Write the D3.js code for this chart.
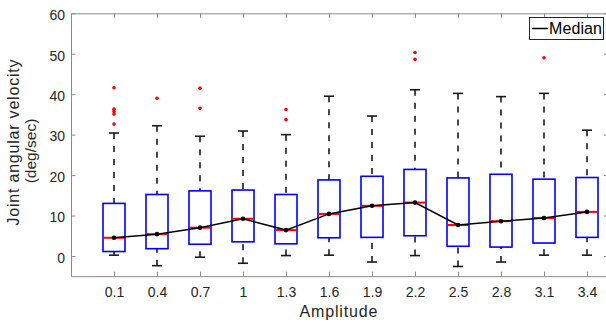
<!DOCTYPE html>
<html><head><meta charset="utf-8">
<script src="https://cdn.jsdelivr.net/npm/d3@7"></script>
<style>
html,body{margin:0;padding:0;background:#fff;}
svg{display:block;font-family:"Liberation Sans",Arial,Helvetica,sans-serif;}
</style></head>
<body>
<svg id="chart" width="606" height="324"></svg>
<script>
const categories = ["0.1","0.4","0.7","1","1.3","1.6","1.9","2.2","2.5","2.8","3.1","3.4"];
const whiskerLow  = [0.2, -2.4, -0.3, -1.8, 0.1, 0.2, -1.5, 0.1, -2.6, -1.5, 0.2, 0.2];
const q1          = [1.1, 1.8, 2.9, 3.5, 3.0, 4.5, 4.6, 5.0, 2.4, 2.2, 3.2, 4.6];
const medians     = [4.5, 5.4, 7.0, 9.2, 6.4, 10.4, 12.4, 13.2, 7.65, 8.6, 9.4, 10.9];
const q3          = [13.0, 15.2, 16.1, 16.3, 15.2, 18.8, 19.7, 21.4, 19.3, 20.2, 19.0, 19.4];
const whiskerHigh = [30.4, 32.2, 29.6, 30.9, 30.0, 39.5, 34.6, 41.1, 40.2, 39.4, 40.2, 31.1];
const outliers = [
  [41.6, 36.3, 35.7, 35.1, 32.6],
  [39.0],
  [41.5, 36.5],
  [],
  [36.2, 33.7],
  [],
  [],
  [50.3, 48.6],
  [],
  [],
  [49.0],
  []
];
const yTicks = [0, 10, 20, 30, 40, 50, 60];

const svg = d3.select("#chart");
const x = d3.scaleLinear().domain([0, 12.5]).range([71, 608.5]);
const y = d3.scaleLinear().domain([-5, 60]).range([276.2, 13.3]);
const axisColor = "#8a8a8a", textColor = "#262626";

const data = categories.map((c, i) => ({
  pos: i + 1, lo: whiskerLow[i], q1: q1[i], med: medians[i], q3: q3[i], hi: whiskerHigh[i], out: outliers[i]
}));

// axes
const gL = svg.append("g").attr("transform", `translate(${x(0)},0)`)
  .call(d3.axisLeft(y).tickValues(yTicks).tickSize(-4.5).tickSizeOuter(0).tickPadding(6));
const gR = svg.append("g").attr("transform", `translate(${x(12.5)},0)`)
  .call(d3.axisRight(y).tickValues(yTicks).tickSize(-4.5).tickSizeOuter(0).tickFormat(""));
const gB = svg.append("g").attr("transform", `translate(0,${y(-5)})`)
  .call(d3.axisBottom(x).tickValues(data.map(d => d.pos)).tickSize(-4.5).tickSizeOuter(0)
    .tickPadding(10.5).tickFormat(p => categories[p - 1]));
const gT = svg.append("g").attr("transform", `translate(0,${y(60)})`)
  .call(d3.axisTop(x).tickValues(data.map(d => d.pos)).tickSize(-4.5).tickSizeOuter(0).tickFormat(""));
[gL, gR, gB, gT].forEach(g => {
  g.selectAll("path.domain").attr("stroke", axisColor).attr("stroke-width", 1);
  g.selectAll(".tick line").attr("stroke", axisColor).attr("stroke-width", 1);
  g.selectAll(".tick text").attr("fill", textColor).style("font-size", "14px")
    .style("font-family", '"Liberation Sans",Arial,sans-serif');
});
gL.selectAll(".tick text").attr("dy", "0.45em");

// boxes
const halfW = 11, capW = 5;
const bx = svg.append("g");
data.forEach(d => {
  const cx = x(d.pos);
  bx.append("line").attr("x1", cx).attr("x2", cx).attr("y1", y(d.hi)).attr("y2", y(d.q3))
    .attr("stroke", "#1a1a1a").attr("stroke-width", 1.6).attr("stroke-dasharray", "6,7");
  bx.append("line").attr("x1", cx).attr("x2", cx).attr("y1", y(d.lo)).attr("y2", y(d.q1))
    .attr("stroke", "#1a1a1a").attr("stroke-width", 1.6).attr("stroke-dasharray", "6,7");
  [d.hi, d.lo].forEach(v => {
    bx.append("line").attr("x1", cx - capW).attr("x2", cx + capW).attr("y1", y(v)).attr("y2", y(v))
      .attr("stroke", "#1a1a1a").attr("stroke-width", 1.6);
  });
  bx.append("rect").attr("x", cx - halfW).attr("width", 2 * halfW)
    .attr("y", y(d.q3)).attr("height", y(d.q1) - y(d.q3))
    .attr("fill", "none").attr("stroke", "#0000ff").attr("stroke-width", 1.6);
  bx.append("line").attr("x1", cx - halfW).attr("x2", cx + halfW).attr("y1", y(d.med)).attr("y2", y(d.med))
    .attr("stroke", "#ff0000").attr("stroke-width", 2);
  d.out.forEach(v => {
    bx.append("circle").attr("cx", cx).attr("cy", y(v)).attr("r", 1.8).attr("fill", "#ff0000");
  });
});

// median line
const line = d3.line().x(d => x(d.pos)).y(d => y(d.med));
svg.append("path").datum(data).attr("d", line).attr("fill", "none")
  .attr("stroke", "#000").attr("stroke-width", 1.5);
svg.append("g").selectAll("circle").data(data).join("circle")
  .attr("cx", d => x(d.pos)).attr("cy", d => y(d.med)).attr("r", 2.3).attr("fill", "#000");

// labels
svg.append("text").attr("x", 338.5).attr("y", 317).attr("text-anchor", "middle")
  .attr("fill", textColor).style("font-size", "16px")
  .attr("textLength", 78).attr("lengthAdjust", "spacing").text("Amplitude");
const yl = svg.append("text").attr("transform", "rotate(-90)")
  .attr("text-anchor", "middle").attr("fill", textColor).style("font-size", "16px");
yl.append("tspan").attr("x", -142.5).attr("y", 18.5)
  .attr("textLength", 166).attr("lengthAdjust", "spacing").text("Joint angular velocity");
yl.append("tspan").attr("x", -151).attr("y", 35.5).style("font-size", "15.5px").text("(deg/sec)");

// legend
const lg = svg.append("g");
lg.append("rect").attr("x", 529.5).attr("y", 17.5).attr("width", 74).attr("height", 22)
  .attr("fill", "#fff").attr("stroke", "#262626").attr("stroke-width", 1);
lg.append("line").attr("x1", 532).attr("x2", 548).attr("y1", 28.5).attr("y2", 28.5)
  .attr("stroke", "#000").attr("stroke-width", 1.5);
lg.append("text").attr("x", 549).attr("y", 34).attr("fill", "#000")
  .style("font-size", "16px").attr("textLength", 53).attr("lengthAdjust", "spacing").text("Median");
</script>
</body></html>
